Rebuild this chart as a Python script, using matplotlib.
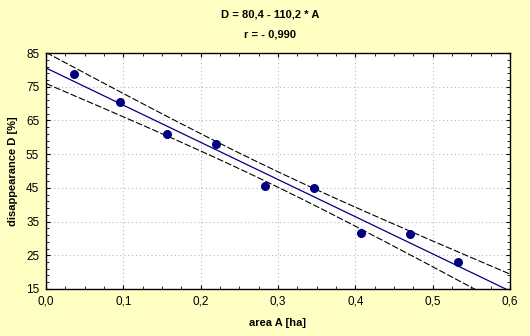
import matplotlib
matplotlib.use("Agg")
import matplotlib.pyplot as plt
from matplotlib.ticker import FuncFormatter
import numpy as np

plt.rcParams['font.family'] = ['Liberation Sans', 'DejaVu Sans']

# data
area = [0.036, 0.095, 0.157, 0.220, 0.283, 0.346, 0.408, 0.471, 0.533]
disappearance = [78.8, 70.4, 60.9, 57.9, 45.5, 44.9, 31.5, 31.2, 22.9]
title_lines = ["D = 80,4 - 110,2 * A", "r = - 0,990"]
x_ticks = [0.0, 0.1, 0.2, 0.3, 0.4, 0.5, 0.6]
y_ticks = [15, 25, 35, 45, 55, 65, 75, 85]

x = np.array(area)
y = np.array(disappearance)
n = len(x)
slope, icpt = np.polyfit(x, y, 1)
resid = y - (icpt + slope * x)
s = np.sqrt(np.sum(resid ** 2) / (n - 2))
t = 2.365  # t(0.975, 7)
xs = np.linspace(0, 0.6, 200)
fit = icpt + slope * xs
half = t * s * np.sqrt(1.0 / n + (xs - x.mean()) ** 2 / np.sum((x - x.mean()) ** 2))

bg = '#ffffc4'
fig = plt.figure(figsize=(5.3, 3.36), dpi=100, facecolor=bg)
ax = fig.add_axes([0.087, 0.140, 0.875, 0.702])
ax.set_facecolor('white')

# dotted grid at the labelled ticks only
for v in x_ticks[1:-1]:
    ax.axvline(v, color='#b8b8b8', ls=(0, (1, 2.5)), lw=0.8, zorder=1)
for v in y_ticks[1:-1]:
    ax.axhline(v, color='#b8b8b8', ls=(0, (1, 2.5)), lw=0.8, zorder=1)

ax.plot(xs, fit, color='#000080', lw=0.9, zorder=3)
ax.plot(xs, fit + half, color='black', lw=0.8, ls=(0, (6, 2)), zorder=3)
ax.plot(xs, fit - half, color='black', lw=0.8, ls=(0, (6, 2)), zorder=3)
ax.scatter(x, y, s=30, color='#000080', zorder=4)

ax.set_xlim(0, 0.6)
ax.set_ylim(15, 85)
ax.set_xticks(x_ticks)
ax.set_xticks(np.arange(0, 0.601, 0.025), minor=True)
ax.set_yticks(y_ticks)
ax.set_yticks(np.arange(15, 86, 2), minor=True)
ax.xaxis.set_major_formatter(FuncFormatter(lambda v, p: ('%.1f' % v).replace('.', ',')))
ax.yaxis.set_major_formatter(FuncFormatter(lambda v, p: '%d' % round(v)))
ax.tick_params(which='both', direction='in', top=True, right=True, labelsize=8.5, pad=5)
ax.tick_params(which='major', length=3)
ax.tick_params(which='minor', length=2)
for sp in ax.spines.values():
    sp.set_linewidth(1.0)

ax.set_xlabel('area A [ha]', fontsize=8, fontweight='bold', labelpad=7)
ax.set_ylabel('disappearance D [%]', fontsize=8, fontweight='bold', labelpad=6)

fig.text(0.51, 0.958, title_lines[0], ha='center', va='center', fontsize=8, fontweight='bold')
fig.text(0.51, 0.898, title_lines[1], ha='center', va='center', fontsize=8, fontweight='bold')

fig.savefig('out.png', dpi=100, facecolor=bg)
